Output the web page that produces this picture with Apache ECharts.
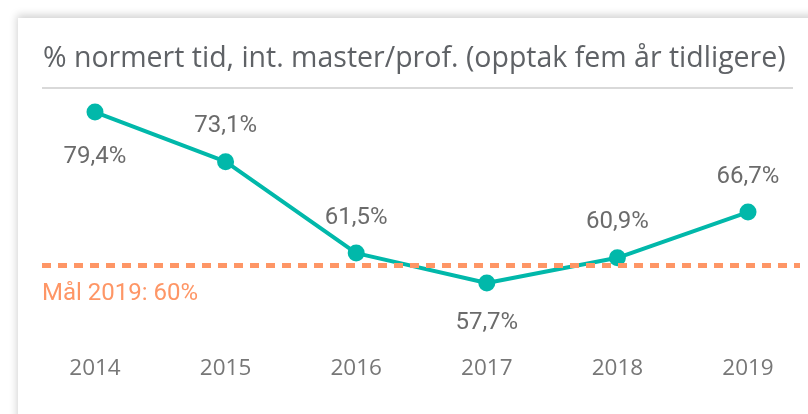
<!DOCTYPE html>
<html>
<head>
<meta charset="utf-8">
<script src="https://cdn.jsdelivr.net/npm/echarts@6/dist/echarts.min.js"></script>
<style>
  html, body { margin: 0; padding: 0; background: #fff; }
  #card {
    position: absolute; left: 18px; top: 18px; width: 820px; height: 420px;
    background: #fff;
    box-shadow: -1px -3px 8px rgba(0, 0, 0, 0.18);
  }
  #chart { position: absolute; left: 0; top: 0; width: 808px; height: 414px; }
</style>
</head>
<body>
<div id="card"></div>
<div id="chart"></div>
<script>
// data
var years = ['2014', '2015', '2016', '2017', '2018', '2019'];
var normertTid = [79.4, 73.1, 61.5, 57.7, 60.9, 66.7];
var maal = 60;
var maalLabel = 'Mål 2019: 60%';
var titleText = '% normert tid, int. master/prof. (opptak fem år tidligere)';

var teal = '#01B8AA';
var orange = '#FE9666';

function pct(v) {
  return v.toFixed(1).replace('.', ',') + '%';
}

var chart = echarts.init(document.getElementById('chart'), null, { renderer: 'canvas' });

chart.setOption({
  animation: false,
  backgroundColor: 'transparent',
  title: {
    text: titleText,
    left: 38,
    top: 39,
    textStyle: {
      fontFamily: 'Open Sans',
      fontSize: 28.5,
      fontWeight: 'normal',
      color: '#5f6266'
    }
  },
  graphic: [{
    type: 'line',
    shape: { x1: 42, y1: 88, x2: 793, y2: 88 },
    style: { stroke: '#d9d9d9', lineWidth: 2 }
  }],
  grid: [
    { left: 95, right: 60, top: 107.3, bottom: 70.3 },
    { left: 42, right: 8, top: 107.3, bottom: 70.3 }
  ],
  xAxis: [
    {
      type: 'category',
      gridIndex: 0,
      data: years,
      boundaryGap: false,
      axisLine: { show: false },
      axisTick: { show: false },
      splitLine: { show: false },
      axisLabel: {
        margin: 13,
        fontFamily: 'Open Sans',
        fontSize: 22.5,
        color: '#777'
      }
    },
    { type: 'value', gridIndex: 1, min: 0, max: 1, show: false }
  ],
  yAxis: [
    { type: 'value', gridIndex: 0, min: 50, max: 80, show: false },
    { type: 'value', gridIndex: 1, min: 50, max: 80, show: false }
  ],
  series: [
    {
      type: 'line',
      xAxisIndex: 1,
      yAxisIndex: 1,
      data: [],
      silent: true,
      markLine: {
        symbol: 'none',
        silent: true,
        lineStyle: { color: orange, width: 5, type: [9, 7] },
        label: {
          position: 'insideStartBottom',
          formatter: maalLabel,
          distance: [0, 17],
          fontFamily: 'Roboto',
          fontSize: 24,
          color: orange
        },
        data: [{ yAxis: maal }]
      }
    },
    {
      type: 'line',
      xAxisIndex: 0,
      yAxisIndex: 0,
      z: 3,
      symbol: 'circle',
      symbolSize: 17,
      lineStyle: { color: teal, width: 4 },
      itemStyle: { color: teal },
      data: normertTid.map(function (v, i) {
        var below = (i === 0 || i === 3);
        return {
          value: v,
          label: {
            position: below ? 'bottom' : 'top',
            distance: i === 0 ? 24 : (below ? 19 : 15)
          }
        };
      }),
      label: {
        show: true,
        formatter: function (p) { return pct(p.value); },
        fontFamily: 'Roboto',
        fontSize: 24,
        color: '#6b6b6b'
      }
    }
  ]
});
</script>
</body>
</html>
